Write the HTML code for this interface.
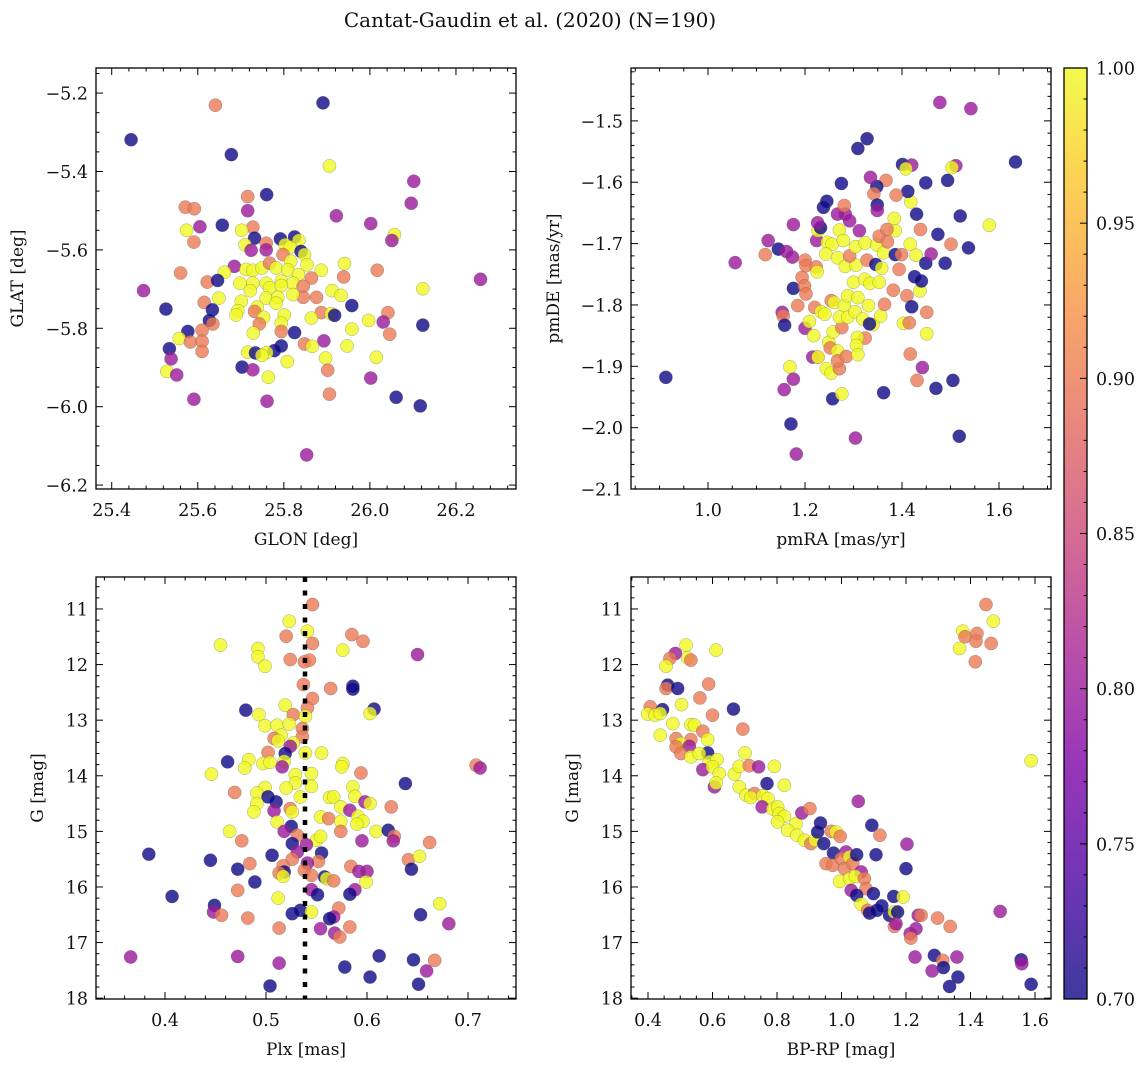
<!DOCTYPE html>
<html><head><meta charset="utf-8"><style>
body{margin:0;background:#fff}
svg{display:block;font-family:"DejaVu Serif","Liberation Serif",serif}
</style></head><body>
<svg id="fig" width="1148" height="1067" viewBox="0 0 1148 1067">
<text x="530" y="27" text-anchor="middle" font-size="20" fill="#111">Cantat-Gaudin et al. (2020) (N=190)</text>
</svg>
<script>
// ---- Panel 1: GLON vs GLAT ----
const glonX=[25.445,25.641,25.891,25.678,25.906,26.102,26.096,25.760,25.716,25.571,25.592,25.716,25.922,26.002,25.657,25.605,25.574,26.057,26.051,25.728,25.702,25.732,25.591,25.710,25.759,25.792,25.825,25.835,25.803,25.815,25.724,25.759,25.840,25.848,25.798,25.941,25.854,25.685,25.662,25.560,25.712,25.728,25.749,25.767,25.782,25.816,25.809,25.834,25.887,26.017,25.939,25.864,26.257,25.622,25.646,25.698,25.728,25.759,25.794,25.821,25.845,25.474,25.722,25.767,25.794,26.123,25.912,25.933,25.876,25.845,25.821,25.759,25.786,25.649,25.701,25.958,25.615,25.738,25.782,25.526,25.634,25.693,25.732,25.887,25.910,25.918,26.042,25.689,25.753,25.801,25.864,25.627,25.635,25.794,25.743,25.997,26.031,26.123,25.958,25.577,25.610,25.729,25.794,25.825,26.046,25.557,25.583,25.610,25.893,25.848,25.866,25.947,25.794,25.534,25.610,25.716,25.734,25.778,25.760,25.749,26.015,25.538,25.897,25.808,25.902,25.703,25.728,25.528,25.551,25.764,26.002,25.906,26.061,25.591,25.761,26.117,25.853];
const glatY=[-5.319,-5.231,-5.225,-5.357,-5.386,-5.425,-5.481,-5.459,-5.464,-5.491,-5.495,-5.500,-5.513,-5.533,-5.537,-5.541,-5.550,-5.561,-5.576,-5.542,-5.550,-5.570,-5.580,-5.587,-5.583,-5.572,-5.567,-5.576,-5.587,-5.593,-5.601,-5.600,-5.604,-5.612,-5.612,-5.635,-5.638,-5.642,-5.657,-5.659,-5.650,-5.652,-5.646,-5.634,-5.646,-5.629,-5.651,-5.663,-5.652,-5.652,-5.669,-5.672,-5.675,-5.682,-5.678,-5.685,-5.685,-5.685,-5.680,-5.685,-5.693,-5.704,-5.704,-5.697,-5.691,-5.699,-5.704,-5.716,-5.721,-5.721,-5.714,-5.723,-5.721,-5.723,-5.731,-5.742,-5.734,-5.746,-5.736,-5.751,-5.753,-5.755,-5.757,-5.760,-5.763,-5.767,-5.760,-5.766,-5.772,-5.766,-5.774,-5.780,-5.789,-5.787,-5.789,-5.780,-5.784,-5.792,-5.802,-5.808,-5.805,-5.812,-5.808,-5.811,-5.815,-5.826,-5.835,-5.833,-5.832,-5.840,-5.846,-5.845,-5.845,-5.852,-5.859,-5.861,-5.863,-5.857,-5.862,-5.869,-5.874,-5.878,-5.876,-5.885,-5.907,-5.899,-5.906,-5.910,-5.919,-5.925,-5.927,-5.968,-5.976,-5.981,-5.986,-5.998,-6.123];
const glonC=[0.70,0.90,0.70,0.70,1.0,0.80,0.80,0.70,0.90,0.90,0.90,0.80,0.80,0.80,0.70,0.80,1.0,1.0,0.80,0.90,1.0,0.70,0.90,1.0,0.90,0.70,0.70,1.0,1.0,1.0,0.80,0.80,0.70,1.0,0.90,1.0,1.0,0.80,1.0,0.90,1.0,1.0,1.0,0.90,1.0,1.0,1.0,1.0,1.0,0.90,0.90,0.90,0.80,0.90,0.70,1.0,1.0,1.0,1.0,1.0,0.90,0.80,1.0,1.0,1.0,1.0,1.0,1.0,0.90,0.90,1.0,1.0,1.0,1.0,1.0,0.70,0.90,1.0,1.0,0.70,0.70,1.0,0.90,0.90,1.0,0.70,0.90,1.0,1.0,1.0,1.0,0.70,0.90,1.0,0.90,1.0,0.80,0.70,1.0,0.70,0.90,1.0,0.90,0.70,0.90,1.0,0.90,0.90,0.80,0.90,1.0,1.0,0.70,0.70,0.90,1.0,0.70,0.70,1.0,1.0,1.0,0.80,1.0,1.0,0.90,0.70,0.80,1.0,0.80,1.0,0.80,0.90,0.70,0.80,0.80,0.70,0.80];

// ---- Panel 2: pmRA vs pmDE ----
const pmraX=[0.913,1.056,1.124,1.118,1.145,1.162,1.174,1.176,1.176,1.153,1.155,1.158,1.169,1.176,1.157,1.171,1.182,1.200,1.209,1.218,1.185,1.194,1.199,1.202,1.200,1.202,1.223,1.225,1.216,1.226,1.227,1.244,1.254,1.271,1.257,1.276,1.220,1.233,1.241,1.249,1.252,1.267,1.267,1.285,1.258,1.276,1.254,1.260,1.281,1.271,1.288,1.303,1.319,1.331,1.340,1.356,1.333,1.324,1.308,1.306,1.309,1.288,1.309,1.300,1.323,1.334,1.353,1.364,1.382,1.403,1.415,1.451,1.451,1.410,1.420,1.437,1.426,1.440,1.417,1.442,1.431,1.470,1.505,1.518,1.304,1.362,1.224,1.227,1.232,1.246,1.256,1.243,1.267,1.271,1.279,1.283,1.305,1.292,1.304,1.324,1.328,1.348,1.362,1.353,1.370,1.346,1.358,1.386,1.399,1.394,1.417,1.429,1.449,1.460,1.489,1.501,1.537,1.474,1.438,1.386,1.384,1.369,1.430,1.418,1.412,1.388,1.367,1.348,1.342,1.349,1.349,1.335,1.312,1.283,1.292,1.267,1.281,1.245,1.238,1.275,1.309,1.328,1.401,1.420,1.408,1.449,1.494,1.511,1.503,1.520,1.580,1.634,1.478,1.542,1.226];
const pmdeY=[-1.918,-1.731,-1.695,-1.718,-1.709,-1.713,-1.722,-1.669,-1.773,-1.812,-1.818,-1.833,-1.901,-1.921,-1.938,-1.994,-2.043,-1.838,-1.827,-1.850,-1.801,-1.755,-1.769,-1.782,-1.727,-1.736,-1.738,-1.746,-1.885,-1.885,-1.885,-1.904,-1.911,-1.904,-1.953,-1.945,-1.804,-1.811,-1.815,-1.861,-1.870,-1.875,-1.891,-1.884,-1.844,-1.837,-1.793,-1.796,-1.801,-1.820,-1.820,-1.811,-1.823,-1.801,-1.832,-1.818,-1.831,-1.854,-1.853,-1.866,-1.881,-1.785,-1.788,-1.763,-1.758,-1.765,-1.763,-1.799,-1.776,-1.830,-1.829,-1.812,-1.847,-1.785,-1.803,-1.777,-1.754,-1.761,-1.880,-1.902,-1.923,-1.936,-1.923,-2.014,-2.017,-1.943,-1.695,-1.679,-1.674,-1.698,-1.701,-1.717,-1.723,-1.678,-1.695,-1.737,-1.735,-1.720,-1.705,-1.699,-1.727,-1.702,-1.715,-1.688,-1.697,-1.734,-1.740,-1.718,-1.718,-1.742,-1.701,-1.719,-1.732,-1.717,-1.732,-1.701,-1.707,-1.685,-1.677,-1.679,-1.659,-1.677,-1.652,-1.632,-1.615,-1.621,-1.597,-1.607,-1.619,-1.637,-1.646,-1.592,-1.679,-1.652,-1.663,-1.652,-1.638,-1.631,-1.641,-1.602,-1.545,-1.529,-1.571,-1.572,-1.578,-1.601,-1.597,-1.573,-1.576,-1.655,-1.670,-1.567,-1.470,-1.480,-1.666];
const pmC=[0.70,0.80,0.80,0.90,0.70,0.80,0.80,0.80,0.70,0.80,0.90,0.70,1.0,0.80,0.80,0.70,0.80,0.80,1.0,1.0,0.90,0.90,0.90,0.90,0.90,0.90,0.90,1.0,0.80,0.90,1.0,1.0,1.0,0.90,0.70,1.0,0.90,1.0,1.0,1.0,0.90,1.0,0.90,0.90,1.0,0.90,0.90,1.0,1.0,1.0,1.0,1.0,1.0,1.0,1.0,1.0,0.70,0.90,1.0,1.0,1.0,1.0,1.0,1.0,1.0,1.0,1.0,0.90,0.90,1.0,0.90,0.90,1.0,0.90,0.70,1.0,0.70,0.70,0.90,0.80,0.90,0.70,0.70,0.70,0.80,0.70,0.80,1.0,0.70,1.0,1.0,1.0,1.0,1.0,1.0,1.0,1.0,0.90,1.0,1.0,0.90,1.0,1.0,0.90,0.90,0.70,1.0,0.70,0.90,0.90,1.0,1.0,0.70,0.80,0.70,0.90,0.70,0.70,0.90,1.0,1.0,0.90,0.70,1.0,0.70,0.90,0.90,0.70,0.90,0.70,0.80,0.80,0.80,0.80,0.80,0.80,0.90,0.70,0.70,0.70,0.70,0.70,0.70,0.80,1.0,0.70,0.70,0.80,1.0,0.70,1.0,0.70,0.80,0.80,0.80];

// ---- Panel 3: Plx vs G ----
const plxX=[0.546,0.523,0.541,0.520,0.546,0.585,0.596,0.455,0.492,0.576,0.650,0.492,0.524,0.538,0.543,0.499,0.537,0.564,0.586,0.586,0.546,0.541,0.519,0.480,0.607,0.603,0.527,0.493,0.539,0.499,0.511,0.523,0.536,0.515,0.508,0.512,0.536,0.527,0.524,0.502,0.519,0.539,0.555,0.483,0.462,0.497,0.504,0.518,0.516,0.576,0.575,0.479,0.708,0.712,0.446,0.529,0.545,0.594,0.529,0.520,0.545,0.638,0.499,0.469,0.491,0.502,0.510,0.534,0.563,0.567,0.586,0.588,0.598,0.603,0.624,0.491,0.488,0.508,0.524,0.526,0.574,0.583,0.554,0.562,0.574,0.591,0.596,0.590,0.511,0.525,0.518,0.531,0.574,0.464,0.609,0.621,0.627,0.626,0.476,0.550,0.554,0.595,0.662,0.526,0.540,0.531,0.555,0.384,0.445,0.506,0.526,0.552,0.641,0.652,0.541,0.484,0.472,0.517,0.518,0.513,0.584,0.592,0.600,0.644,0.538,0.517,0.545,0.558,0.560,0.567,0.599,0.489,0.472,0.545,0.551,0.588,0.583,0.407,0.512,0.672,0.449,0.448,0.456,0.572,0.526,0.534,0.545,0.567,0.563,0.653,0.681,0.482,0.513,0.554,0.583,0.568,0.573,0.366,0.472,0.513,0.578,0.612,0.646,0.667,0.659,0.603,0.651,0.504];
const plxG=[10.92,11.22,11.40,11.49,11.62,11.46,11.58,11.65,11.71,11.74,11.82,11.86,11.91,11.95,11.92,12.03,12.36,12.43,12.39,12.44,12.61,12.78,12.73,12.82,12.80,12.88,12.90,12.90,12.93,13.10,13.09,13.07,13.15,13.27,13.33,13.37,13.30,13.41,13.47,13.58,13.60,13.59,13.59,13.71,13.75,13.78,13.76,13.74,13.84,13.78,13.84,13.86,13.81,13.86,13.97,13.98,13.96,13.95,14.13,14.22,14.19,14.14,14.21,14.30,14.31,14.38,14.47,14.38,14.39,14.38,14.20,14.37,14.47,14.50,14.56,14.50,14.65,14.63,14.59,14.65,14.56,14.62,14.74,14.77,14.82,14.73,14.82,14.87,14.83,14.91,15.00,15.07,15.00,15.00,15.00,14.98,15.09,15.17,15.17,15.16,15.09,15.17,15.20,15.22,15.24,15.37,15.39,15.41,15.52,15.43,15.50,15.54,15.51,15.45,15.57,15.58,15.68,15.62,15.73,15.75,15.63,15.72,15.72,15.68,15.70,15.81,15.79,15.82,15.85,15.89,15.91,15.91,16.06,16.05,16.14,16.05,16.13,16.17,16.20,16.30,16.33,16.45,16.51,16.38,16.48,16.42,16.45,16.54,16.57,16.50,16.66,16.56,16.74,16.75,16.72,16.83,16.90,17.26,17.25,17.37,17.44,17.24,17.31,17.32,17.51,17.62,17.75,17.78];
const plxC=[0.90,1.0,1.0,0.90,0.90,0.90,0.90,1.0,1.0,1.0,0.80,1.0,0.90,0.90,0.90,1.0,0.90,0.90,0.70,0.70,0.90,0.90,1.0,0.70,0.70,1.0,0.90,1.0,1.0,1.0,1.0,1.0,0.90,1.0,0.90,1.0,0.90,1.0,0.80,0.90,0.70,1.0,1.0,1.0,0.70,1.0,1.0,1.0,0.80,1.0,1.0,1.0,0.90,0.80,1.0,1.0,1.0,0.90,1.0,1.0,1.0,0.70,1.0,0.90,1.0,0.70,0.70,1.0,1.0,1.0,1.0,1.0,0.80,1.0,0.90,1.0,1.0,0.80,0.90,1.0,1.0,0.80,1.0,0.90,1.0,1.0,1.0,1.0,1.0,0.70,0.80,0.90,0.90,1.0,1.0,0.70,0.90,0.80,0.90,1.0,1.0,0.80,0.90,0.70,0.80,0.80,0.70,0.70,0.70,0.70,0.90,0.90,0.90,1.0,0.80,0.90,0.70,0.90,0.70,0.90,0.90,0.80,0.80,0.70,0.90,1.0,0.90,0.70,1.0,0.90,1.0,0.70,0.90,0.80,0.70,0.80,0.70,0.70,1.0,1.0,0.70,0.80,0.90,0.90,0.70,0.70,1.0,0.80,0.70,0.70,0.80,0.90,0.90,0.80,0.90,0.80,0.90,0.80,0.80,0.80,0.70,0.70,0.70,0.90,0.80,0.70,0.70,0.70];

// ---- Panel 4: BP-RP vs G ----
const bprpX=[1.448,1.471,1.376,1.383,1.420,1.417,1.464,1.366,1.415,1.588,0.518,0.485,0.468,0.523,0.533,0.456,0.611,0.461,0.456,0.492,0.588,0.561,0.504,0.665,0.600,0.407,0.445,0.399,0.422,0.438,0.477,0.533,0.544,0.694,0.438,0.570,0.487,0.585,0.533,0.502,0.528,0.487,0.502,0.585,0.533,0.559,0.590,0.614,0.570,0.600,0.621,0.606,0.611,0.668,0.683,0.714,0.743,0.701,0.792,0.769,0.823,0.683,0.704,0.730,0.719,0.756,0.772,0.754,0.787,0.802,0.807,0.823,0.802,0.859,0.833,0.862,0.877,0.902,0.885,0.905,0.918,0.935,0.926,0.945,0.968,0.983,0.996,0.975,0.952,0.973,1.014,0.999,1.025,1.009,1.035,1.047,1.061,0.994,1.025,1.043,1.071,1.076,1.030,1.047,1.099,1.061,1.081,1.087,1.110,1.125,1.162,1.191,1.149,1.164,1.174,1.164,1.169,1.094,1.119,1.107,1.052,1.203,1.200,1.231,1.238,1.247,1.213,1.215,1.298,1.337,1.228,1.288,1.314,1.316,1.281,1.358,1.335,1.361,1.492,1.557,1.559,1.588];
const bprpG=[10.92,11.22,11.40,11.50,11.44,11.58,11.62,11.71,11.95,13.73,11.65,11.80,11.89,11.88,11.92,12.03,11.74,12.37,12.43,12.43,12.35,12.60,12.72,12.80,12.91,12.76,12.81,12.89,12.91,12.88,13.06,13.08,13.09,13.16,13.27,13.20,13.33,13.35,13.35,13.42,13.47,13.48,13.60,13.59,13.66,13.60,13.75,13.71,13.89,13.84,13.96,14.20,14.13,13.97,13.83,13.82,13.84,13.59,13.83,14.14,14.17,14.20,14.35,14.32,14.39,14.36,14.41,14.56,14.60,14.56,14.68,14.73,14.83,14.86,14.98,15.07,14.67,14.59,15.16,15.22,15.16,14.85,15.01,15.22,15.00,15.01,15.09,15.39,15.58,15.61,15.37,15.49,15.46,15.67,15.58,15.42,15.73,15.90,15.85,15.81,15.85,16.03,16.06,16.15,16.12,16.31,16.42,16.47,16.42,16.34,16.17,16.18,16.51,16.45,16.45,16.71,16.66,14.89,15.07,15.42,14.46,15.23,15.67,16.75,16.51,16.51,16.84,16.92,16.56,16.71,17.26,17.23,17.32,17.45,17.51,17.26,17.79,17.62,16.44,17.31,17.38,17.75];
const bprpC=[0.90,1.0,1.0,0.90,0.90,0.90,0.90,1.0,0.90,1.0,1.0,0.80,0.90,1.0,0.90,1.0,1.0,0.70,0.90,0.70,0.90,0.90,1.0,0.70,0.90,0.90,0.70,1.0,1.0,1.0,1.0,1.0,1.0,0.90,1.0,0.90,0.90,1.0,0.90,1.0,0.80,0.90,0.90,0.70,1.0,1.0,1.0,1.0,0.80,1.0,1.0,0.80,1.0,1.0,1.0,0.90,0.80,1.0,1.0,0.70,1.0,1.0,1.0,0.90,1.0,1.0,1.0,0.80,1.0,1.0,1.0,1.0,1.0,1.0,1.0,1.0,0.80,0.90,1.0,0.90,1.0,0.70,0.70,0.70,0.90,1.0,0.90,0.70,0.90,0.90,0.80,0.90,1.0,0.90,0.90,0.70,0.80,1.0,1.0,1.0,0.90,0.90,0.80,0.70,0.70,1.0,0.90,0.70,0.70,0.70,0.70,1.0,0.70,1.0,0.70,0.90,0.80,0.70,0.90,0.70,0.80,0.80,0.70,0.80,0.80,0.90,0.80,0.90,0.90,0.90,0.80,0.70,0.90,0.70,0.80,0.80,0.70,0.70,0.80,0.70,0.80,0.70];

const cbTicks=[0.70,0.75,0.80,0.85,0.90,0.95,1.00];
const plxMedian=0.5386;

const NS="http://www.w3.org/2000/svg";
const svg=document.getElementById('fig');
function mk(tag,attrs,parent){const e=document.createElementNS(NS,tag);for(const k in attrs)e.setAttribute(k,attrs[k]);(parent||svg).appendChild(e);return e;}
const stops=[[0,13,8,135],[0.125,76,2,161],[0.25,126,3,168],[0.375,169,35,149],[0.5,204,71,120],[0.625,229,107,93],[0.75,248,148,65],[0.875,253,195,40],[1,240,249,33]];
function plasma(t){t=Math.max(0,Math.min(1,t));for(let i=1;i<stops.length;i++){if(t<=stops[i][0]){const a=stops[i-1],b=stops[i],f=(t-a[0])/(b[0]-a[0]);return `rgb(${Math.round(a[1]+f*(b[1]-a[1]))},${Math.round(a[2]+f*(b[2]-a[2]))},${Math.round(a[3]+f*(b[3]-a[3]))})`;}}return 'rgb(240,249,33)';}
function cnorm(v){return (v-0.70)/0.30;}
function fmt(v,d){let s=v.toFixed(d);return s.startsWith('-')?'\u2212'+s.slice(1):s;}

function panel(o){
  const {L,T,W,H,x0,x1,y0,y1,name}=o;
  const sx=v=>L+(v-x0)/(x1-x0)*W;
  const sy=v=>T+(v-y0)/(y1-y0)*H;
  const g=mk('g',{});
  
  
  const clip=mk('clipPath',{id:'clip-'+name},g);mk('rect',{x:L,y:T,width:W,height:H},clip);
  const pts=mk('g',{'clip-path':'url(#clip-'+name+')'},g);
  
  
  o.xs.forEach((xv,i)=>{
    const c=mk('circle',{cx:sx(xv),cy:sy(o.ys[i]),r:6.6,fill:plasma(cnorm(o.cs[i])),'fill-opacity':0.8,stroke:'#555','stroke-opacity':0.5,'stroke-width':0.5},pts);
    
    
  });
  if(o.extra)o.extra(g,sx,sy);
  const fr=mk('rect',{x:L,y:T,width:W,height:H,fill:'none',stroke:'#000','stroke-width':1.3},g);
  
  
  const eps=1e-9;
  for(let v=Math.ceil(x0/o.xmin-eps)*o.xmin;v<=x1+eps;v+=o.xmin){
    const maj=Math.abs(v/o.xmaj-Math.round(v/o.xmaj))<1e-6;const len=maj?7:3.5;const x=sx(v);
    mk('line',{x1:x,x2:x,y1:T+H,y2:T+H-len,stroke:'#000','stroke-width':1},g);
    mk('line',{x1:x,x2:x,y1:T,y2:T+len,stroke:'#000','stroke-width':1},g);
    if(maj){const t=mk('text',{x:x,y:T+H+27,'text-anchor':'middle','font-size':17.5,fill:'#111'},g);t.textContent=fmt(v,o.xd);
      
      }
  }
  const ylo=Math.min(y0,y1),yhi=Math.max(y0,y1);
  for(let v=Math.ceil(ylo/o.ymin-eps)*o.ymin;v<=yhi+eps;v+=o.ymin){
    const maj=Math.abs(v/o.ymaj-Math.round(v/o.ymaj))<1e-6;const len=maj?7:3.5;const y=sy(v);
    mk('line',{x1:L,x2:L+len,y1:y,y2:y,stroke:'#000','stroke-width':1},g);
    mk('line',{x1:L+W,x2:L+W-len,y1:y,y2:y,stroke:'#000','stroke-width':1},g);
    if(maj){const t=mk('text',{x:L-8,y:y+6.5,'text-anchor':'end','font-size':17.5,fill:'#111'},g);t.textContent=fmt(v,o.yd);
      
      }
  }
  const xl=mk('text',{x:L+W/2,y:T+H+56,'text-anchor':'middle','font-size':17,fill:'#111'},g);xl.textContent=o.xlabel;
  
  
  const yl=mk('text',{x:0,y:0,'text-anchor':'middle','font-size':17,fill:'#111',transform:`translate(${o.ylx},${T+H/2}) rotate(-90)`},g);yl.textContent=o.ylabel;
  
  
}

panel({name:'glon-glat',L:96,T:68,W:420,H:421,x0:25.3635,x1:26.3395,y0:-5.136,y1:-6.210,xs:glonX,ys:glatY,cs:glonC,xmaj:0.2,xmin:0.04,ymaj:0.2,ymin:0.05,xd:1,yd:1,xlabel:'GLON [deg]',ylabel:'GLAT [deg]',ylx:23});
panel({name:'pm',L:631,T:68,W:420,H:421,x0:0.8412,x1:1.7072,y0:-1.4138,y1:-2.1,xs:pmraX,ys:pmdeY,cs:pmC,xmaj:0.2,xmin:0.05,ymaj:0.1,ymin:0.02,xd:1,yd:1,xlabel:'pmRA [mas/yr]',ylabel:'pmDE [mas/yr]',ylx:559});
panel({name:'plx-g',L:96,T:577,W:420,H:422,x0:0.3317,x1:0.7475,y0:10.425,y1:18.015,xs:plxX,ys:plxG,cs:plxC,xmaj:0.1,xmin:0.02,ymaj:1,ymin:0.2,xd:1,yd:0,xlabel:'Plx [mas]',ylabel:'G [mag]',ylx:43,
  extra:(g,sx,sy)=>{const l=mk('line',{x1:sx(plxMedian),x2:sx(plxMedian),y1:577,y2:999,stroke:'#000','stroke-width':4.5,'stroke-dasharray':'5,8.5'},g);
    
    }});
panel({name:'cmd',L:631,T:577,W:420,H:422,x0:0.3473,x1:1.6496,y0:10.425,y1:18.015,xs:bprpX,ys:bprpG,cs:bprpC,xmaj:0.2,xmin:0.05,ymaj:1,ymin:0.2,xd:1,yd:0,xlabel:'BP-RP [mag]',ylabel:'G [mag]',ylx:578});

(function(){
  const L=1064,T=68,W=23,H=931;
  const g=mk('g',{});
  
  
  const defs=mk('defs',{},g);
  const lg=mk('linearGradient',{id:'cbgrad',x1:0,y1:1,x2:0,y2:0},defs);
  for(let i=0;i<=20;i++){mk('stop',{offset:i/20,'stop-color':plasma(i/20),'stop-opacity':0.8},lg);}
  mk('rect',{x:L,y:T,width:W,height:H,fill:'url(#cbgrad)',stroke:'#000','stroke-width':1.3},g);
  const sy=v=>T+H-(v-0.70)/0.30*H;
  for(let k=0;k<=30;k++){const v=0.70+k*0.01;const maj=k%5===0;const y=sy(v);
    mk('line',{x1:L+W,x2:L+W-(maj?7:3.5),y1:y,y2:y,stroke:'#000','stroke-width':1},g);}
  cbTicks.forEach(v=>{const t=mk('text',{x:L+W+9,y:sy(v)+6.5,'font-size':17.5,fill:'#111'},g);t.textContent=v.toFixed(2);
    
    });
})();
</script>
</body></html>
